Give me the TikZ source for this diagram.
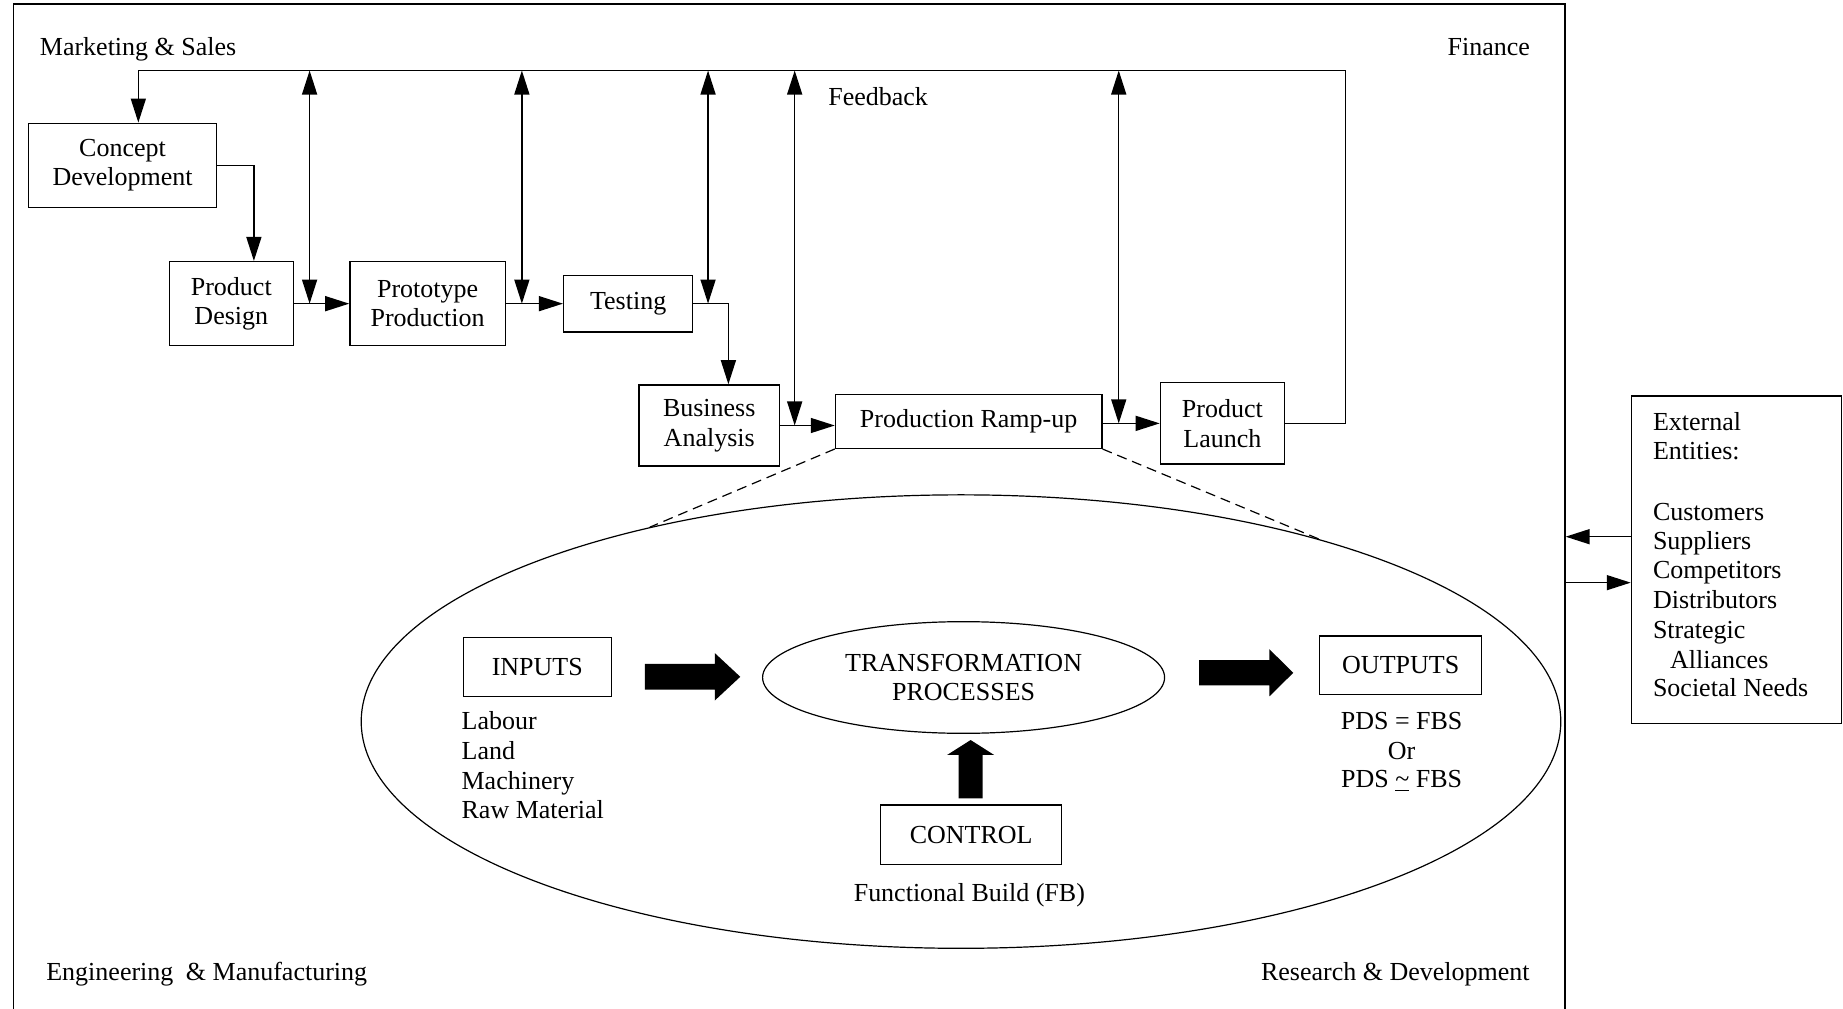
\documentclass[tikz,border=0pt]{standalone}
\usepackage{fontspec}
\setmainfont{Liberation Serif}
\usetikzlibrary{arrows.meta,calc,shapes.geometric}
\def\u{0.5877pt}
\tikzset{
  txt/.style={font=\fontsize{13}{14.8}\selectfont, inner sep=0pt},
  lbl/.style={txt, anchor=mid west, yshift=-1.8pt},
  box/.style={txt, draw, line width=0.7pt, align=center},
  arr/.style={line width=0.7pt, -{Triangle[length=12pt,width=7.5pt]}},
  dbl/.style={line width=0.7pt, {Triangle[length=12pt,width=7.5pt]}-{Triangle[length=12pt,width=7.5pt]}},
  cut/.style={line width=0.6pt, dash pattern=on 5pt off 3pt},
  oval/.style={txt, draw, ellipse, line width=0.6pt, align=center},
}
\begin{document}
\begin{tikzpicture}[x=0.5877pt,y=-0.5877pt]
\clip (0,0) rectangle (1568,858);
\fill[white] (0,0) rectangle (1568,858);

% enterprise frame
\node[box, minimum width=1319.9*\u, minimum height=896.6*\u] (frame) at (671.45,451.7) {};

% corner functions
\node[lbl] (ms) at (33.6,40) {Marketing \& Sales};
\node[lbl, anchor=mid east] (fin) at (1302,40) {Finance};
\node[lbl] (em) at (39.1,827) {Engineering\hspace{3pt} \& Manufacturing};
\node[lbl, anchor=mid east] (rd) at (1301.7,827) {Research \& Development};
\node[lbl] (fbk) at (704.4,83) {Feedback};

% development stages
\node[box, minimum width=159.5*\u, minimum height=71.5*\u] (concept) at (104.25,140.65) {Concept\\Development};
\node[box, minimum width=105.6*\u, minimum height=71.5*\u] (pd) at (196.8,258.35) {Product\\Design};
\node[box, minimum width=132.2*\u, minimum height=71.5*\u] (proto) at (363.8,258.35) {Prototype\\Production};
\node[box, minimum width=109.8*\u, minimum height=48*\u] (testing) at (534.4,258.3) {Testing};
\node[box, minimum width=119.4*\u, minimum height=69*\u] (ba) at (603.4,362) {Business\\Analysis};
\node[box, minimum width=226.6*\u, minimum height=45.9*\u] (pru) at (824.1,358.45) {Production Ramp-up};
\node[box, minimum width=105.5*\u, minimum height=69.2*\u] (pl) at (1040,360.2) {Product\\Launch};

% stage flow
\coordinate (cd) at (216,0);
\coordinate (tb) at (619.7,0);
\draw[arr] (concept.east) -| (cd |- pd.north);
\draw[arr] (pd.east) -- (proto.west);
\draw[arr] (proto.east) -- (proto.east -| testing.west);
\draw[arr] (testing.east) -| (tb |- ba.north);
\draw[arr] (ba.east) -- (ba.east -| pru.west);
\draw[arr] (pru.east |- pl.west) -- (pl.west);

% feedback loop
\coordinate (fbL) at (117.7,60);
\coordinate (fbR) at (1144.9,60);
\draw[arr] (pl.east) -| (fbR) -- (fbL) -- (fbL |- concept.north);
\coordinate (f1) at (263.4,60);
\coordinate (f2) at (444,60);
\coordinate (f3) at (602.4,60);
\coordinate (f4) at (676.1,60);
\coordinate (f5) at (951.8,60);
\draw[dbl] (f1) -- (f1 |- pd.east);
\draw[dbl] (f2) -- (f2 |- proto.east);
\draw[dbl] (f3) -- (f3 |- testing.east);
\draw[dbl] (f4) -- (f4 |- ba.east);
\draw[dbl] (f5) -- (f5 |- pl.west);

% production system detail
\node[draw, ellipse, line width=0.6pt, inner sep=0pt, minimum width=1020.6*\u, minimum height=385.8*\u] (big) at (817.6,613.9) {};
\draw[cut] (pru.south west) -- (big.148.7);
\draw[cut] (pru.south east) -- (big.27.6);

\node[box, minimum width=125.8*\u, minimum height=50.5*\u] (inputs) at (457.1,567.45) {INPUTS};
\node[oval, minimum width=342*\u, minimum height=95*\u] (tp) at (819.8,576.4) {TRANSFORMATION\\PROCESSES};
\node[box, minimum width=137.8*\u, minimum height=49.7*\u] (outputs) at (1191.7,565.85) {OUTPUTS};
\node[box, minimum width=154.1*\u, minimum height=50.4*\u] (control) at (826.25,710.1) {CONTROL};

% block arrows
\fill (548.7,564.8) -- (608.1,564.8) -- (608.1,555.6) -- (629.8,575.8) -- (608.1,596) -- (608.1,586.8) -- (548.7,586.8) -- cycle;
\fill (1020.1,561.6) -- (1079.9,561.6) -- (1079.9,552.3) -- (1100.3,572.4) -- (1079.9,592.5) -- (1079.9,583.2) -- (1020.1,583.2) -- cycle;
\fill (815.6,679.2) -- (815.6,642.3) -- (805.8,642.3) -- (825.8,629.6) -- (845.8,642.3) -- (836,642.3) -- (836,679.2) -- cycle;

% resources
\node[lbl] (in1) at (392.4,614) {Labour};
\node[lbl] (in2) at (392.4,639.5) {Land};
\node[lbl] (in3) at (392.4,665) {Machinery};
\node[lbl] (in4) at (392.4,689.1) {Raw Material};

% results
\node[txt, anchor=base] (o1) at (1192.5,620.5) {PDS = FBS};
\node[txt, anchor=base] (o2) at (1192.5,645.8) {Or};
\node[txt, anchor=base] (o3) at (1192.5,670) {PDS \underline{\textasciitilde} FBS};

\node[txt, yshift=-1.2pt] (fbuild) at (824.7,760) {Functional Build (FB)};

% external entities
\node[box, minimum width=178.5*\u, minimum height=278.5*\u] (ext) at (1477.25,476.15) {};
\node[lbl] (e1) at (1406,359.6) {External};
\node[lbl] (e2) at (1406,384.3) {Entities:};
\node[lbl] (e3) at (1406,435.9) {Customers};
\node[lbl] (e4) at (1406,460.8) {Suppliers};
\node[lbl] (e5) at (1406,485.5) {Competitors};
\node[lbl] (e6) at (1406,511) {Distributors};
\node[lbl] (e7) at (1406,536.6) {Strategic};
\node[lbl] (e8) at (1420.6,561.5) {Alliances};
\node[lbl] (e9) at (1406,585.6) {Societal Needs};

\coordinate (xin) at (0,456.6);
\coordinate (xout) at (0,495.7);
\draw[arr] (xin -| ext.west) -- (xin -| frame.east);
\draw[arr] (xout -| frame.east) -- (xout -| ext.west);
\end{tikzpicture}
\end{document}
